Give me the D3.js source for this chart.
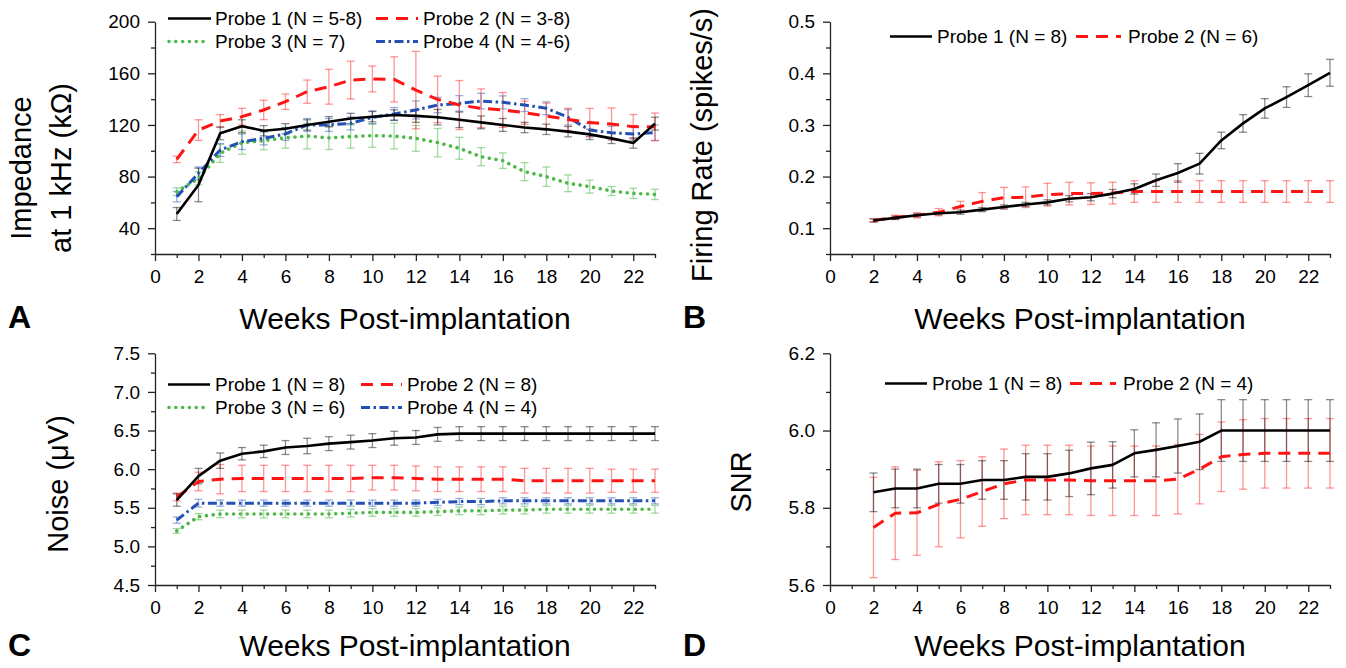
<!DOCTYPE html>
<html><head><meta charset="utf-8">
<script src="https://cdn.jsdelivr.net/npm/d3@7"></script>
<style>
body{margin:0;background:#fff;}
svg{display:block;font-family:"Liberation Sans",Arial,sans-serif;}
</style></head><body>
<svg id="c" width="1346" height="668"></svg>
<script>
// ---------------- DATA ----------------
const xMajorTicks = [0,2,4,6,8,10,12,14,16,18,20,22];
const xMinorTicks = [1,3,5,7,9,11,13,15,17,19,21,23];

// Panel A: Impedance at 1 kHz (kOhm)
const weeksA = [1,2,3,4,5,6,7,8,9,10,11,12,13,14,15,16,17,18,19,20,21,22,23];
const impP1 = [51,73.5,113.5,119,115.5,117,120,122.5,125,126.4,127.7,127,126,124,122,120,118,116.6,114.8,112.7,109.6,106,121];
const impP1Err = [5,13,5,5,4,4,4,4,4,4,4,5,6,6,5,5,4,4,4,4,4,4,5];
const impP2 = [93.3,116,123,126.4,131.6,138,145.8,149.6,154.8,155.6,155.3,147,139.8,135.4,132.9,131.6,129.5,126.9,124.3,121.8,120.7,118.7,118.5];
const impP2Err = [2.5,8,5,6.5,7.5,6,9,13.5,14.6,10,17.5,30,18,19,15,13.5,9,10,8.6,11,12.5,9.4,10.7];
const impP3 = [68.3,78.6,98,106.3,107.8,110,111.4,110,111,111.7,111.4,109.6,106.3,101.9,95.4,92.3,83.8,79.9,74.8,72.2,68.8,67,66.2];
const impP3Err = [3,5,7,9,7,8,10,9,9,9,10,10,11,8.5,7,6,7,7.5,6.5,5,3.5,4,4];
const impP4 = [64.4,82.5,100.6,107,109.6,113,120,120,121.2,125.9,128.5,131.6,135.4,136.7,138.5,137.5,135.4,132.9,125.9,116,114,113,114];
const impP4Err = [4,5,5,6,5,5,5,5,5,5,5,7,6,6,6,5,5,5,6,5,5,5,6];
const impYMajor = [40,80,120,160,200];
const impYMinor = [20,60,100,140,180];

// Panel B: Firing rate (spikes/s)
const weeksB = [2,3,4,5,6,7,8,9,10,11,12,13,14,15,16,17,18,19,20,21,22,23];
const fireP1 = [0.115,0.12,0.125,0.129,0.131,0.136,0.141,0.146,0.15,0.157,0.16,0.167,0.176,0.193,0.207,0.225,0.27,0.303,0.332,0.354,0.377,0.401];
const fireP1Err = [0.003,0.003,0.003,0.003,0.004,0.004,0.004,0.004,0.005,0.006,0.007,0.008,0.01,0.012,0.018,0.02,0.016,0.017,0.019,0.02,0.022,0.026];
const fireP2 = [0.115,0.121,0.125,0.131,0.142,0.152,0.159,0.16,0.165,0.167,0.167,0.168,0.171,0.171,0.171,0.171,0.171,0.171,0.171,0.171,0.171,0.171];
const fireP2Err = [0.003,0.004,0.005,0.007,0.01,0.017,0.02,0.02,0.022,0.022,0.021,0.021,0.021,0.021,0.021,0.021,0.021,0.021,0.021,0.021,0.021,0.021];
const fireYMajor = [0.1,0.2,0.3,0.4,0.5];
const fireYMinor = [0.05,0.15,0.25,0.35,0.45];

// Panel C: Noise (uV)
const weeksC = [1,2,3,4,5,6,7,8,9,10,11,12,13,14,15,16,17,18,19,20,21,22,23];
const noiseP1 = [5.6,5.91,6.11,6.2,6.23,6.28,6.3,6.33,6.35,6.37,6.4,6.41,6.45,6.46,6.46,6.46,6.46,6.46,6.46,6.46,6.46,6.46,6.46];
const noiseP1Err = [0.08,0.1,0.1,0.08,0.08,0.09,0.1,0.09,0.09,0.09,0.09,0.09,0.09,0.09,0.09,0.09,0.09,0.09,0.09,0.09,0.09,0.09,0.09];
const noiseP2 = [5.64,5.84,5.87,5.88,5.88,5.88,5.88,5.88,5.88,5.89,5.89,5.88,5.87,5.87,5.87,5.87,5.85,5.85,5.85,5.85,5.85,5.85,5.85];
const noiseP2Err = [0.05,0.12,0.19,0.17,0.17,0.17,0.17,0.17,0.17,0.16,0.16,0.16,0.16,0.16,0.16,0.16,0.16,0.16,0.16,0.16,0.15,0.15,0.15];
const noiseP3 = [5.2,5.385,5.42,5.42,5.42,5.42,5.42,5.42,5.43,5.44,5.44,5.44,5.45,5.46,5.46,5.47,5.47,5.48,5.48,5.48,5.48,5.48,5.48];
const noiseP3Err = [0.03,0.04,0.05,0.05,0.05,0.05,0.05,0.05,0.05,0.05,0.05,0.05,0.05,0.05,0.05,0.05,0.05,0.05,0.05,0.05,0.05,0.05,0.05];
const noiseP4 = [5.34,5.56,5.56,5.56,5.56,5.56,5.56,5.56,5.56,5.56,5.56,5.56,5.57,5.58,5.58,5.59,5.59,5.59,5.59,5.59,5.59,5.59,5.59];
const noiseP4Err = [0.04,0.05,0.04,0.04,0.04,0.04,0.04,0.04,0.04,0.04,0.04,0.04,0.04,0.04,0.04,0.04,0.04,0.04,0.04,0.04,0.04,0.04,0.04];
const noiseYMajor = [4.5,5.0,5.5,6.0,6.5,7.0,7.5];
const noiseYMinor = [4.75,5.25,5.75,6.25,6.75,7.25];

// Panel D: SNR
const weeksD = [2,3,4,5,6,7,8,9,10,11,12,13,14,15,16,17,18,19,20,21,22,23];
const snrP1 = [5.84,5.85,5.85,5.862,5.862,5.872,5.872,5.88,5.88,5.889,5.902,5.911,5.941,5.95,5.96,5.971,6.0,6.0,6.0,6.0,6.0,6.0];
const snrP1Err = [0.05,0.05,0.05,0.05,0.05,0.05,0.05,0.06,0.06,0.06,0.068,0.06,0.061,0.07,0.07,0.072,0.08,0.08,0.08,0.08,0.08,0.08];
const snrP2 = [5.749,5.786,5.787,5.809,5.822,5.842,5.862,5.872,5.872,5.872,5.87,5.87,5.87,5.87,5.874,5.9,5.932,5.938,5.941,5.941,5.941,5.941];
const snrP2Err = [0.13,0.12,0.11,0.11,0.1,0.09,0.09,0.09,0.09,0.09,0.09,0.09,0.09,0.09,0.09,0.09,0.09,0.09,0.09,0.09,0.09,0.09];
const snrYMajor = [5.6,5.8,6.0,6.2];
const snrYMinor = [5.7,5.9,6.1];

// ---------------- STYLES ----------------
const STY = {
  p1: {color:"#000000", width:2.6, dash:null, cap:"butt", err:"#000000", errOp:0.45},
  p2: {color:"#ff1414", width:3, dash:"12,8", cap:"butt", err:"#ff3030", errOp:0.5},
  p3: {color:"#4cb848", width:3.6, dash:"0.01,6.8", cap:"round", err:"#4cb848", errOp:0.5},
  p4: {color:"#2250b4", width:3, dash:"9,3.5,2.5,3.5", cap:"butt", err:"#2250b4", errOp:0.45}
};
const FONT = '"Liberation Sans", Arial, sans-serif';

const svg = d3.select("#c");

function drawPanel(p) {
  const g = svg.append("g");
  const x = d3.scaleLinear().domain([0,23]).range([p.left, p.left + 500]);
  const y = d3.scaleLinear().domain(p.yDomain).range([p.bottom, p.top]);

  // error bars + lines
  p.series.forEach(s => {
    const st = STY[s.style];
    const pts = s.weeks.map((w,i) => ({w, v:s.values[i], e:s.errors[i]}));
    const eg = g.append("g").attr("stroke", st.err).attr("stroke-opacity", st.errOp).attr("stroke-width", 1.3).attr("fill","none");
    pts.forEach(d => {
      const xx = x(d.w), y1 = y(d.v - d.e), y2 = y(d.v + d.e);
      eg.append("line").attr("x1",xx).attr("x2",xx).attr("y1",y1).attr("y2",y2);
      eg.append("line").attr("x1",xx-4).attr("x2",xx+4).attr("y1",y1).attr("y2",y1);
      eg.append("line").attr("x1",xx-4).attr("x2",xx+4).attr("y1",y2).attr("y2",y2);
    });
    s._pts = pts;
  });
  p.series.forEach(s => {
    const st = STY[s.style];
    const line = d3.line().x(d => x(d.w)).y(d => y(d.v));
    g.append("path").datum(s._pts).attr("d", line)
      .attr("fill","none").attr("stroke", st.color).attr("stroke-width", st.width)
      .attr("stroke-dasharray", st.dash).attr("stroke-linecap", st.cap).attr("stroke-linejoin","round");
  });

  // axes
  const styleAxis = sel => {
    sel.attr("font-family", FONT).attr("font-size", 19);
    sel.selectAll("path,line").attr("stroke", "#222").attr("stroke-width", 1.3);
    sel.selectAll("text").attr("fill", "#000");
  };
  g.append("g").attr("transform", `translate(0,${p.bottom})`)
    .call(d3.axisBottom(x).tickValues(xMajorTicks).tickSize(7).tickSizeOuter(0).tickPadding(9).tickFormat(d3.format("d")))
    .call(styleAxis);
  g.append("g").attr("transform", `translate(0,${p.bottom})`)
    .call(d3.axisBottom(x).tickValues(xMinorTicks).tickSize(4).tickSizeOuter(0).tickFormat(""))
    .call(styleAxis).call(a => a.select(".domain").remove());
  g.append("g").attr("transform", `translate(${p.left},0)`)
    .call(d3.axisLeft(y).tickValues(p.yMajor).tickSize(7).tickSizeOuter(0).tickPadding(8).tickFormat(p.yFormat))
    .call(styleAxis);
  g.append("g").attr("transform", `translate(${p.left},0)`)
    .call(d3.axisLeft(y).tickValues(p.yMinor).tickSize(4).tickSizeOuter(0).tickFormat(""))
    .call(styleAxis).call(a => a.select(".domain").remove());

  // titles
  g.append("text").attr("x", p.left + 250).attr("y", p.xTitleY).attr("text-anchor","middle")
    .attr("font-size", 30).attr("font-family", FONT).text("Weeks Post-implantation");
  p.yTitle.forEach(t => {
    g.append("text").attr("transform", `translate(${t.x},${p.yTitleCY}) rotate(-90)`)
      .attr("text-anchor","middle").attr("font-size", 29).attr("font-family", FONT).text(t.text);
  });
  g.append("text").attr("x", p.labelX).attr("y", p.labelY).attr("font-size", 32).attr("font-weight","bold")
    .attr("font-family", FONT).text(p.label);

  // legend
  p.legend.forEach(l => {
    const st = STY[l.style];
    g.append("line").attr("x1", l.x0).attr("x2", l.x1).attr("y1", l.y - 6.5).attr("y2", l.y - 6.5)
      .attr("stroke", st.color).attr("stroke-width", st.width).attr("stroke-dasharray", st.dash).attr("stroke-linecap", st.cap);
    g.append("text").attr("x", l.tx).attr("y", l.y).attr("font-size", 19).attr("font-family", FONT).text(l.text);
  });
}

drawPanel({
  left:155, top:21.7, bottom:254, yDomain:[20,200], yMajor:impYMajor, yMinor:impYMinor, yFormat:d3.format("d"),
  xTitleY:329, yTitleCY:168, yTitle:[{x:31,text:"Impedance"},{x:71,text:"at 1 kHz (kΩ)"}],
  label:"A", labelX:8, labelY:328,
  series:[
    {weeks:weeksA, values:impP3, errors:impP3Err, style:"p3"},
    {weeks:weeksA, values:impP4, errors:impP4Err, style:"p4"},
    {weeks:weeksA, values:impP2, errors:impP2Err, style:"p2"},
    {weeks:weeksA, values:impP1, errors:impP1Err, style:"p1"}
  ],
  legend:[
    {style:"p1", x0:168, x1:211, tx:215, y:25, text:"Probe 1 (N = 5-8)"},
    {style:"p3", x0:169, x1:206, tx:215, y:48, text:"Probe 3 (N = 7)"},
    {style:"p2", x0:376, x1:418, tx:423, y:25, text:"Probe 2 (N = 3-8)"},
    {style:"p4", x0:376, x1:418, tx:423, y:48, text:"Probe 4 (N = 4-6)"}
  ]
});

drawPanel({
  left:830, top:21.7, bottom:254, yDomain:[0.05,0.5], yMajor:fireYMajor, yMinor:fireYMinor, yFormat:d3.format(".1f"),
  xTitleY:329, yTitleCY:145, yTitle:[{x:712,text:"Firing Rate (spikes/s)"}],
  label:"B", labelX:683, labelY:328,
  series:[
    {weeks:weeksB, values:fireP2, errors:fireP2Err, style:"p2"},
    {weeks:weeksB, values:fireP1, errors:fireP1Err, style:"p1"}
  ],
  legend:[
    {style:"p1", x0:890, x1:932, tx:937, y:43, text:"Probe 1 (N = 8)"},
    {style:"p2", x0:1076, x1:1121, tx:1128, y:43, text:"Probe 2 (N = 6)"}
  ]
});

drawPanel({
  left:155, top:353.3, bottom:585, yDomain:[4.5,7.5], yMajor:noiseYMajor, yMinor:noiseYMinor, yFormat:d3.format(".1f"),
  xTitleY:656, yTitleCY:484, yTitle:[{x:68,text:"Noise (μV)"}],
  label:"C", labelX:8, labelY:656,
  series:[
    {weeks:weeksC, values:noiseP3, errors:noiseP3Err, style:"p3"},
    {weeks:weeksC, values:noiseP4, errors:noiseP4Err, style:"p4"},
    {weeks:weeksC, values:noiseP2, errors:noiseP2Err, style:"p2"},
    {weeks:weeksC, values:noiseP1, errors:noiseP1Err, style:"p1"}
  ],
  legend:[
    {style:"p1", x0:168, x1:210, tx:215, y:391, text:"Probe 1 (N = 8)"},
    {style:"p3", x0:169, x1:206, tx:215, y:414, text:"Probe 3 (N = 6)"},
    {style:"p2", x0:361, x1:402, tx:407, y:391, text:"Probe 2 (N = 8)"},
    {style:"p4", x0:361, x1:402, tx:407, y:414, text:"Probe 4 (N = 4)"}
  ]
});

drawPanel({
  left:830, top:353.3, bottom:585, yDomain:[5.6,6.2], yMajor:snrYMajor, yMinor:snrYMinor, yFormat:d3.format(".1f"),
  xTitleY:656, yTitleCY:482, yTitle:[{x:751,text:"SNR"}],
  label:"D", labelX:683, labelY:656,
  series:[
    {weeks:weeksD, values:snrP2, errors:snrP2Err, style:"p2"},
    {weeks:weeksD, values:snrP1, errors:snrP1Err, style:"p1"}
  ],
  legend:[
    {style:"p1", x0:885, x1:927, tx:932, y:390, text:"Probe 1 (N = 8)"},
    {style:"p2", x0:1070, x1:1116, tx:1123, y:390, text:"Probe 2 (N = 4)"}
  ]
});
</script>
</body></html>
